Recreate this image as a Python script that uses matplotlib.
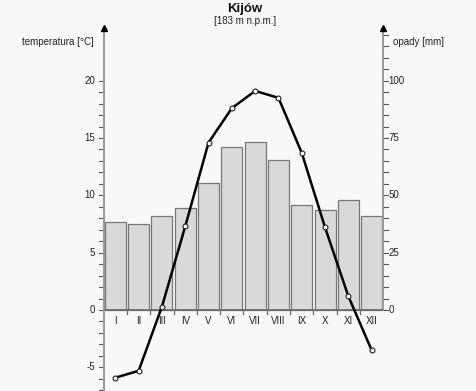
import matplotlib
matplotlib.use('Agg')
import matplotlib.pyplot as plt
import numpy as np

plt.rcParams['font.family'] = ['Liberation Sans', 'DejaVu Sans']

# dane klimatyczne - Kijów
months = ['I', 'II', 'III', 'IV', 'V', 'VI', 'VII', 'VIII', 'IX', 'X', 'XI', 'XII']
temps = [-5.9, -5.3, 0.3, 7.3, 14.6, 17.6, 19.1, 18.5, 13.7, 7.2, 1.2, -3.5]
precip = [38.4, 37.5, 41.0, 44.5, 55.2, 70.9, 73.4, 65.4, 45.8, 43.5, 48.0, 40.8]
temp_ticks = [-5, 0, 5, 10, 15, 20]
precip_ticks = [0, 25, 50, 75, 100]

bg = '#f8f8f8'
W, H = 477, 391
fig = plt.figure(figsize=(W / 100, H / 100), dpi=100, facecolor=bg)

left, right = 103.7 / W, 383.3 / W
top_px = 25
ax2 = fig.add_axes([left, 0, right - left, (H - top_px) / H])
ax = ax2.twinx()
ax.set_zorder(ax2.get_zorder() + 1)
ax.patch.set_visible(False)
ax2.set_facecolor(bg)

tmin, tmax = -7.06, 24.85
x = np.arange(12)

# opady - slupki (prawa os)
ax2.bar(x, precip, width=0.9, color='#d9d9d9', edgecolor='#777777', linewidth=0.9, zorder=2)
ax2.set_ylim(tmin * 5, tmax * 5)
ax2.set_xlim(-0.5, 11.5)

# temperatura - linia
ax.plot(x, temps, '-', color='black', linewidth=1.8, zorder=3, solid_joinstyle='round')
ax.plot(x, temps, 'o', ms=3.5, mfc='white', mec='#222222', mew=0.8, zorder=4)
ax.set_ylim(tmin, tmax)

# os X na wysokosci zera
for a in (ax, ax2):
    for side in ('top', 'bottom', 'left', 'right'):
        a.spines[side].set_visible(False)
    a.tick_params(axis='x', which='both', bottom=False, labelbottom=False)
ax.axhline(0, color='#666666', linewidth=1.2, zorder=2.5)
for b in np.arange(0.5, 11, 1):
    ax.plot([b, b], [0, -0.35], color='#666666', linewidth=0.9, zorder=2.5)
for i, m in enumerate(months):
    ax.text(i, -0.55, m, ha='center', va='top', fontsize=7, color='#222222')

# lewa os - temperatura
ax.plot([-0.5, -0.5], [tmin, tmax - 0.3], color='#999999', linewidth=1.4, clip_on=False, zorder=5)
ax.plot([-0.5], [tmax - 0.3], marker='^', ms=4, color='black', clip_on=False, zorder=6)
for v in range(-7, 21):
    ax.plot([-0.5 - 0.2, -0.5], [v, v], color='#555555', linewidth=0.8, clip_on=False)
for v in temp_ticks:
    ax.text(-0.5 - 0.38, v, str(v), ha='right', va='center', fontsize=7, color='#222222')

# prawa os - opady
ax2.plot([11.5, 11.5], [0, tmax * 5 - 1.5], color='#999999', linewidth=1.4, clip_on=False, zorder=5)
ax2.plot([11.5], [tmax * 5 - 1.5], marker='^', ms=4, color='black', clip_on=False, zorder=6)
for v in range(0, 121, 5):
    ax2.plot([11.5, 11.5 + 0.2], [v, v], color='#555555', linewidth=0.8, clip_on=False)
for v in precip_ticks:
    ax2.text(11.5 + 0.22, v, str(v), ha='left', va='center', fontsize=7, color='#222222')

ax.set_yticks([])
ax2.set_yticks([])

fig.text(94 / W, 1 - 42 / H, 'temperatura [°C]', ha='right', va='center', fontsize=7, color='#222222')
fig.text(393 / W, 1 - 42 / H, 'opady [mm]', ha='left', va='center', fontsize=7, color='#222222')
fig.text(245 / W, 1 - 9 / H, 'Kijów', ha='center', va='center', fontsize=9.5, fontweight='bold', color='#111111')
fig.text(245 / W, 1 - 21 / H, '[183 m n.p.m.]', ha='center', va='center', fontsize=7, color='#222222')

fig.savefig('out.png', dpi=100, facecolor=bg)
